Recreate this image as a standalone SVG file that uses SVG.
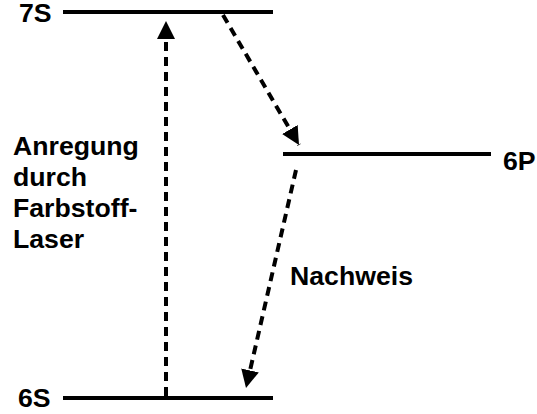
<svg xmlns="http://www.w3.org/2000/svg" width="537" height="414" viewBox="0 0 537 414">
<defs>
<marker id="ah" viewBox="0 0 10 10" refX="10" refY="5" markerWidth="4.5" markerHeight="4.5" orient="auto" markerUnits="strokeWidth">
<path d="M0,0 L10,5 L0,10 Z" fill="#000"/>
</marker>
<style>
.lvl{stroke:#000;stroke-width:4;fill:none}
.arr{stroke:#000;stroke-width:4;fill:none;stroke-dasharray:9 6;marker-end:url(#ah)}
text{font-family:"Liberation Sans",Arial,sans-serif;font-weight:bold;font-size:26.67px;fill:#000}
</style>
</defs>
<rect width="537" height="414" fill="#fff"/>
<g id="level-7S">
<line class="lvl" x1="63" y1="12" x2="273" y2="12"/>
<text x="19" y="22">7S</text>
</g>
<g id="level-6P">
<line class="lvl" x1="283" y1="154" x2="491" y2="154"/>
<text x="503" y="170">6P</text>
</g>
<g id="level-6S">
<line class="lvl" x1="63" y1="398" x2="273" y2="398"/>
<text x="18" y="407">6S</text>
</g>
<g id="label-anregung">
<text x="13" y="155">Anregung</text>
<text x="13" y="186">durch</text>
<text x="13" y="217">Farbstoff-</text>
<text x="13" y="248">Laser</text>
</g>
<g id="label-nachweis">
<text x="290" y="285">Nachweis</text>
</g>
<g id="connectors">
<line class="arr" x1="166" y1="396" x2="166" y2="21"/>
<line class="arr" x1="223" y1="15" x2="299" y2="145"/>
<line class="arr" x1="296" y1="170" x2="246" y2="388"/>
</g>
</svg>
